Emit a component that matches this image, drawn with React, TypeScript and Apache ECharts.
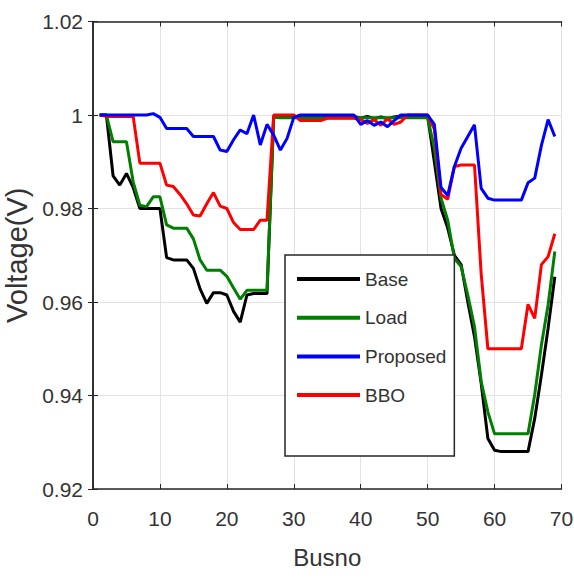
import React, { useEffect, useRef } from "react";
import * as echarts from "echarts";

const busNo = [
  1, 2, 3, 4, 5, 6, 7, 8, 9, 10, 11, 12, 13, 14, 15, 16, 17, 18, 19, 20, 21, 22, 23,
  24, 25, 26, 27, 28, 29, 30, 31, 32, 33, 34, 35, 36, 37, 38, 39, 40, 41, 42, 43, 44,
  45, 46, 47, 48, 49, 50, 51, 52, 53, 54, 55, 56, 57, 58, 59, 60, 61, 62, 63, 64, 65,
  66, 67, 68, 69,
];

const baseV = [
  1.0, 1.0, 0.987, 0.985, 0.9875, 0.9845, 0.98, 0.98, 0.98, 0.98,
  0.9695, 0.969, 0.969, 0.969, 0.9672, 0.9628, 0.9597, 0.962, 0.962, 0.9615,
  0.958, 0.9557, 0.9615, 0.9618, 0.9618, 0.9618, 0.9998, 0.9995, 0.9995, 0.9995,
  0.9997, 0.9997, 0.9997, 0.9997, 0.9997, 0.9997, 0.9997, 0.9997, 0.9997, 0.9993,
  0.9997, 0.9992, 0.9996, 0.9992, 0.9996, 0.9998, 0.9998, 0.9998, 0.9998, 0.9998,
  0.99, 0.98, 0.9758, 0.97, 0.968, 0.96, 0.9526, 0.9426, 0.9308, 0.9283,
  0.928, 0.928, 0.928, 0.928, 0.928, 0.9351, 0.9444, 0.9544, 0.9654,
];

const loadV = [
  1.0, 1.0, 0.9943, 0.9943, 0.9943, 0.9857, 0.9807, 0.9804, 0.9825, 0.9825,
  0.9765, 0.9758, 0.9758, 0.9758, 0.9735, 0.969, 0.9668, 0.9668, 0.9668, 0.9655,
  0.963, 0.9606, 0.9625, 0.9625, 0.9625, 0.9625, 0.9995, 0.9994, 0.9994, 0.9994,
  0.9994, 0.9994, 0.9994, 0.9994, 0.9994, 0.9994, 0.9994, 0.9994, 0.9994, 0.9994,
  0.9994, 0.9994, 0.9994, 0.9994, 0.9994, 0.9994, 0.9994, 0.9994, 0.9994, 0.9994,
  0.9929, 0.9822, 0.9775, 0.9693, 0.9676, 0.9615, 0.9547, 0.943, 0.9365, 0.9318,
  0.9318, 0.9318, 0.9318, 0.9318, 0.9318, 0.9402, 0.9508, 0.9594, 0.9708,
];

const proposedV = [
  1.0, 1.0, 1.0, 1.0, 1.0, 1.0, 1.0, 1.0, 1.0003, 0.9995,
  0.9971, 0.9971, 0.9971, 0.9971, 0.9954, 0.9954, 0.9954, 0.9954, 0.9925, 0.9922,
  0.9947, 0.9968, 0.996, 1.0, 0.9936, 0.998, 0.9957, 0.9925, 0.995, 0.9995,
  1.0, 1.0, 1.0, 1.0, 1.0, 1.0, 1.0, 1.0, 1.0, 0.998,
  0.9988, 0.9978, 0.9985, 0.9975, 0.9988, 1.0, 1.0, 1.0, 1.0, 1.0,
  0.998, 0.9845, 0.9828, 0.989, 0.9929, 0.9954, 0.9979, 0.9843, 0.9822, 0.9818,
  0.9818, 0.9818, 0.9818, 0.9818, 0.9855, 0.9865, 0.9935, 0.999, 0.9954,
];

const bboV = [
  1.0, 0.9997, 0.9997, 0.9997, 0.9997, 0.9997, 0.9897, 0.9897, 0.9897, 0.9897,
  0.985, 0.9847, 0.983, 0.981, 0.9786, 0.9784, 0.981, 0.9834, 0.9805, 0.98,
  0.977, 0.9755, 0.9755, 0.9755, 0.9775, 0.9775, 1.0, 1.0, 1.0, 1.0,
  0.9988, 0.9988, 0.9988, 0.9988, 0.9993, 0.9993, 0.9993, 0.9993, 0.9993, 0.999,
  0.9982, 0.999, 0.9978, 0.9992, 0.998, 0.9985, 1.0, 1.0, 1.0, 1.0,
  0.997, 0.983, 0.982, 0.989, 0.9893, 0.9893, 0.9893, 0.966, 0.95, 0.95,
  0.95, 0.95, 0.95, 0.95, 0.9595, 0.9565, 0.968, 0.9697, 0.9746,
];

const seriesNames = ["Base", "Load", "Proposed", "BBO"];
const xTicks = { min: 0, max: 70, interval: 10 };
const yTicks = { min: 0.92, max: 1.02, interval: 0.02 };

const FONT = "'Liberation Sans', Arial, sans-serif";
const TEXT = "#333333";
const AXIS = "#262626";

function pairs(vals: number[]) {
  return busNo.map((b, i) => [b, vals[i]]);
}

function lineSeries(name: string, vals: number[], color: string) {
  return {
    name,
    type: "line",
    data: pairs(vals),
    showSymbol: false,
    symbol: "none",
    color,
    lineStyle: { color, width: 3 },
    itemStyle: { color },
  };
}

export default function App() {
  const ref = useRef<HTMLDivElement>(null);
  useEffect(() => {
    if (!ref.current) return;
    const chart = echarts.init(ref.current, undefined, { renderer: "svg" });
    const axisBase = {
      type: "value",
      axisLine: { show: true, lineStyle: { color: AXIS, width: 1.5 } },
      axisTick: { show: true, inside: true, length: 5, lineStyle: { color: AXIS } },
    };
    chart.setOption({
      animation: false,
      backgroundColor: "#ffffff",
      grid: {
        left: 93,
        right: 12.5,
        top: 21.5,
        bottom: 91,
        containLabel: false,
        outerBoundsMode: "none",
      },
      xAxis: [
        {
          ...axisBase,
          position: "bottom",
          min: xTicks.min,
          max: xTicks.max,
          interval: xTicks.interval,
          name: "Busno",
          nameLocation: "middle",
          nameGap: 56,
          nameTextStyle: { fontFamily: FONT, fontSize: 24, color: TEXT },
          axisLabel: { margin: 19, fontFamily: FONT, fontSize: 21, color: TEXT },
          splitLine: { show: true, lineStyle: { color: "#e3e3e3", width: 1 } },
        },
        {
          ...axisBase,
          position: "top",
          min: xTicks.min,
          max: xTicks.max,
          interval: xTicks.interval,
          axisLabel: { show: false },
          splitLine: { show: false },
        },
      ],
      yAxis: [
        {
          ...axisBase,
          position: "left",
          min: yTicks.min,
          max: yTicks.max,
          interval: yTicks.interval,
          name: "Voltage(V)",
          nameLocation: "middle",
          nameGap: 50,
          nameRotate: 90,
          nameTextStyle: { fontFamily: FONT, fontSize: 29, color: TEXT },
          axisLabel: {
            margin: 10,
            fontFamily: FONT,
            fontSize: 21,
            color: TEXT,
            formatter: (v: number) => String(Number(v.toFixed(2))),
          },
          splitLine: { show: true, lineStyle: { color: "#e3e3e3", width: 1 } },
        },
        {
          ...axisBase,
          position: "right",
          min: yTicks.min,
          max: yTicks.max,
          interval: yTicks.interval,
          axisLabel: { show: false },
          splitLine: { show: false },
        },
      ],
      legend: {
        data: seriesNames,
        orient: "vertical",
        left: 285,
        top: 255,
        icon: "rect",
        itemWidth: 63,
        itemHeight: 4,
        itemGap: 18.7,
        padding: [14, 8, 51, 12],
        backgroundColor: "#ffffff",
        borderColor: AXIS,
        borderWidth: 1.5,
        textStyle: { fontFamily: FONT, fontSize: 19, lineHeight: 20, color: TEXT },
        z: 10,
      },
      series: [
        lineSeries("Base", baseV, "#000000"),
        lineSeries("Load", loadV, "#007f00"),
        lineSeries("BBO", bboV, "#ff0000"),
        lineSeries("Proposed", proposedV, "#0000ff"),
      ],
    });
    return () => chart.dispose();
  }, []);
  return (
    <div
      ref={ref}
      style={{ position: "fixed", left: 0, top: 0, width: 574, height: 580, background: "#fff" }}
    />
  );
}
